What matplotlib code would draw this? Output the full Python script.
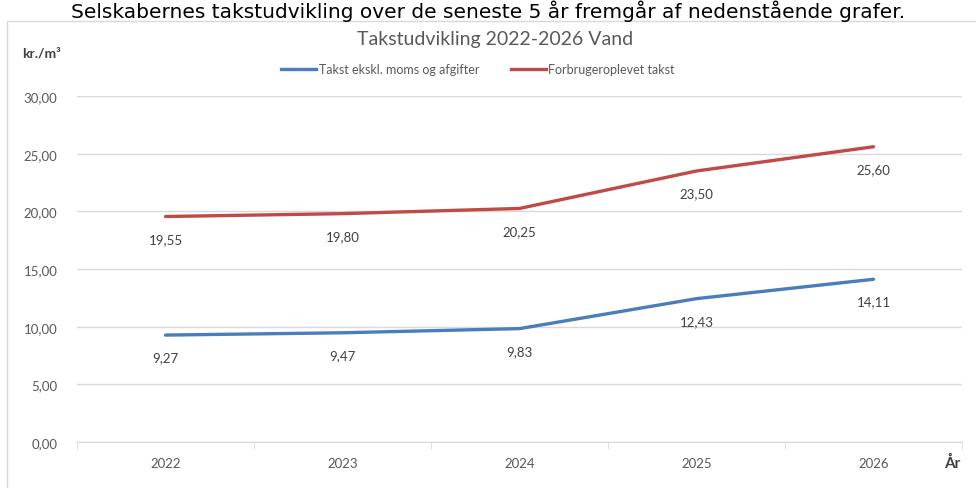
import matplotlib.pyplot as plt
from matplotlib.patches import Rectangle
from matplotlib.lines import Line2D

# data
years = ['2022', '2023', '2024', '2025', '2026']
takst_ekskl = [9.27, 9.47, 9.83, 12.43, 14.11]
forbruger = [19.55, 19.80, 20.25, 23.50, 25.60]
series_names = ['Takst ekskl. moms og afgifter', 'Forbrugeroplevet takst']
y_ticks = [0, 5, 10, 15, 20, 25, 30]

blue = '#4A7EBB'
red = '#BE4B48'
grid_col = '#D9D9D9'
txt_col = '#595959'

plt.rcParams['font.family'] = ['Lato', 'DejaVu Sans']

fig = plt.figure(figsize=(9.76, 4.89), dpi=100)
W, H = 976, 489

def fx(px):
    return px / W

def fy(py):
    return 1 - py / H

# sentence above the chart (cropped in the source page)
fig.text(0.5, fy(1), 'Selskabernes takstudvikling over de seneste 5 år fremgår af nedenstående grafer.',
         ha='center', va='top', fontsize=14.5, color='black', family='DejaVu Sans')

# chart frame
fig.patches.append(Rectangle((fx(7), -0.1), 1.2, fy(22) + 0.1, transform=fig.transFigure,
                             fill=False, edgecolor=grid_col, linewidth=1))

ax = fig.add_axes([fx(77), fy(443), fx(962) - fx(77), fy(97) - fy(443)])
x = list(range(len(years)))
ax.plot(x, takst_ekskl, color=blue, linewidth=2.4, solid_capstyle='round')
ax.plot(x, forbruger, color=red, linewidth=2.4, solid_capstyle='round')

for xi, v in zip(x, takst_ekskl):
    ax.annotate(('%.2f' % v).replace('.', ','), (xi, v), xytext=(0, -16), textcoords='offset points',
                ha='center', va='center', fontsize=9.5, color='#404040')
for xi, v in zip(x, forbruger):
    ax.annotate(('%.2f' % v).replace('.', ','), (xi, v), xytext=(0, -16), textcoords='offset points',
                ha='center', va='center', fontsize=9.5, color='#404040')

ax.set_xlim(-0.5, 4.5)
ax.set_ylim(0, 30)
ax.set_yticks(y_ticks)
ax.set_yticklabels([('%.2f' % t).replace('.', ',') for t in y_ticks])
ax.set_xticks(x)
ax.set_xticklabels(years)
ax.set_xticks([i - 0.5 for i in range(len(years) + 1)], minor=True)
ax.tick_params(axis='x', which='major', length=0, pad=11, labelsize=9.5, labelcolor=txt_col)
ax.tick_params(axis='x', which='minor', length=5, color=grid_col)
ax.tick_params(axis='y', length=0, pad=14, labelsize=9.5, labelcolor=txt_col)
ax.grid(axis='y', color=grid_col, linewidth=1)
ax.set_axisbelow(True)
for s in ['left', 'right', 'top']:
    ax.spines[s].set_visible(False)
ax.spines['bottom'].set_color(grid_col)

fig.text(fx(495), fy(40), 'Takstudvikling 2022-2026 Vand', ha='center', va='center',
         fontsize=14, color=txt_col)
fig.text(fx(22), fy(53), 'kr./m³', ha='left', va='center', fontsize=10,
         fontweight='bold', color='#404040')
fig.text(fx(944), fy(463), 'År', ha='left', va='center', fontsize=11,
         fontweight='bold', color='#404040')

handles = [Line2D([0], [0], color=blue, linewidth=2.4), Line2D([0], [0], color=red, linewidth=2.4)]
fig.legend(handles, series_names, loc='center', bbox_to_anchor=(fx(478), fy(70)), ncol=2,
           frameon=False, fontsize=9, handlelength=2.8, handletextpad=0.2, columnspacing=2.5,
           labelcolor=txt_col)

fig.savefig('out.png', dpi=100)
